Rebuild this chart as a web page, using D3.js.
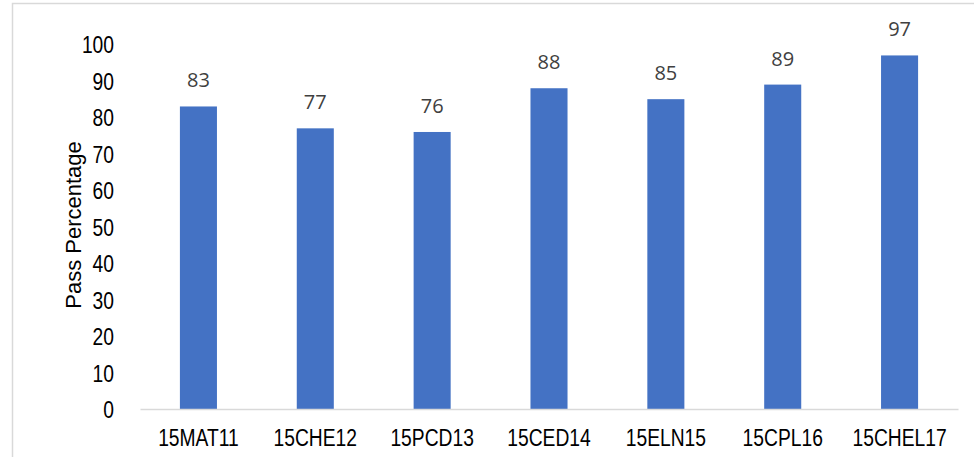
<!DOCTYPE html>
<html>
<head>
<meta charset="utf-8">
<script src="https://cdn.jsdelivr.net/npm/d3@7"></script>
<style>
  body { margin: 0; background: #fff; }
  svg { display: block; }
</style>
</head>
<body>
<svg id="chart" width="974" height="457"></svg>
<script>
const courses = ["15MAT11", "15CHE12", "15PCD13", "15CED14", "15ELN15", "15CPL16", "15CHEL17"];
const passPct = [83, 77, 76, 88, 85, 89, 97];
const yTicks = [0, 10, 20, 30, 40, 50, 60, 70, 80, 90, 100];

const svg = d3.select("#chart");
const width = 974, height = 457;
const margin = { top: 44.5, right: 16, bottom: 48, left: 140 };
const narrow = "scale(0.82,1)";

// chart area border (only left and top visible in the picture)
svg.append("rect")
  .attr("x", 12.5).attr("y", 3.5)
  .attr("width", width + 20).attr("height", height + 20)
  .attr("fill", "none")
  .attr("stroke", "#d9d9d9")
  .attr("stroke-width", 1.5);

const x = d3.scaleBand()
  .domain(courses)
  .range([margin.left, width - margin.right])
  .paddingInner(0.683)
  .paddingOuter(0.3415);

const y = d3.scaleLinear()
  .domain([0, 100])
  .range([height - margin.bottom, margin.top]);

const data = courses.map((c, i) => ({ course: c, value: passPct[i] }));

svg.append("g")
  .attr("fill", "#4472c4")
  .selectAll("rect")
  .data(data)
  .join("rect")
  .attr("x", d => x(d.course))
  .attr("y", d => y(d.value))
  .attr("width", x.bandwidth())
  .attr("height", d => y(0) - y(d.value));

// value labels
svg.append("g")
  .selectAll("text")
  .data(data)
  .join("text")
  .attr("x", d => x(d.course) + x.bandwidth() / 2)
  .attr("y", d => y(d.value) - 19)
  .attr("text-anchor", "middle")
  .attr("font-family", "'Open Sans', sans-serif")
  .attr("font-size", 20)
  .attr("fill", "#404040")
  .text(d => d.value);

// x axis
svg.append("g")
  .attr("transform", `translate(0,${y(0)})`)
  .call(d3.axisBottom(x).tickSize(0).tickSizeOuter(0))
  .call(g => g.select(".domain")
    .attr("stroke", "#d9d9d9")
    .attr("stroke-width", 1.5))
  .call(g => g.selectAll(".tick text")
    .attr("y", 37)
    .attr("dy", 0)
    .attr("transform", narrow)
    .attr("font-family", "'Liberation Sans', Arial, sans-serif")
    .attr("font-size", 23.5)
    .attr("fill", "#000"));

// y axis
svg.append("g")
  .attr("transform", `translate(${margin.left},0)`)
  .call(d3.axisLeft(y).tickValues(yTicks).tickSize(0))
  .call(g => g.select(".domain").remove())
  .call(g => g.selectAll(".tick text")
    .attr("x", -26 / 0.82)
    .attr("dy", "0.36em")
    .attr("transform", narrow)
    .attr("font-family", "'Liberation Sans', Arial, sans-serif")
    .attr("font-size", 23.5)
    .attr("fill", "#000"));

// y axis title
svg.append("text")
  .attr("transform", `translate(81,225) rotate(-90)`)
  .attr("text-anchor", "middle")
  .attr("font-family", "'Liberation Sans', Arial, sans-serif")
  .attr("font-size", 22)
  .attr("fill", "#000")
  .text("Pass Percentage");
</script>
</body>
</html>
